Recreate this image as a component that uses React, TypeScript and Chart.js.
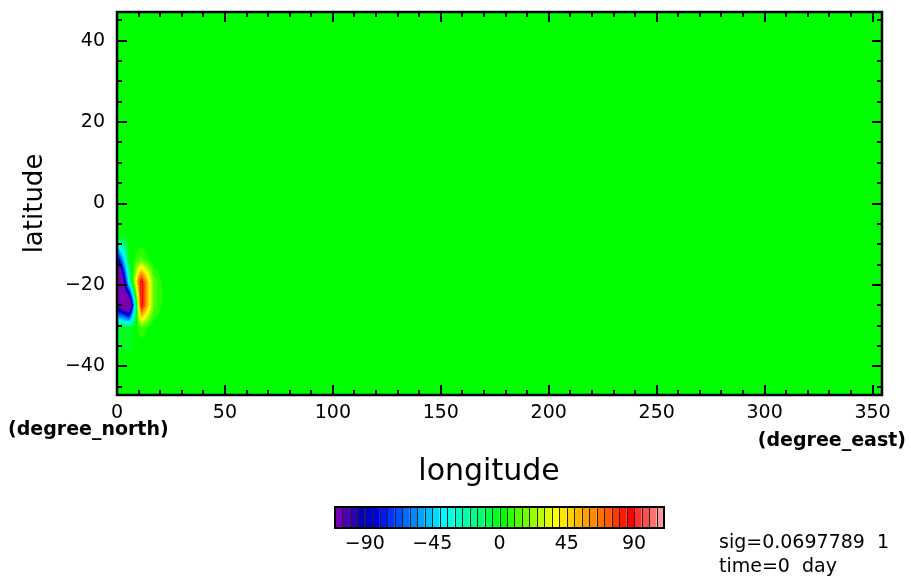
import React, { useEffect, useRef } from "react";
import { Chart, registerables } from "chart.js";

Chart.register(...registerables);

// Plot domain (T21-style grid: 64 longitudes, Gaussian latitudes)
const LON_MIN = 0;
const LON_MAX = 354.375;
const LAT_MIN = -47.07;
const LAT_MAX = 47.07;

const LON_TICKS = [0, 50, 100, 150, 200, 250, 300, 350];
const LAT_TICKS = [-40, -20, 0, 20, 40];
const LON_MINOR_STEP = 10;
const LAT_MINOR_STEP = 5;

// Grid patch holding the non-zero part of the field; the rest of the domain is 0.
const FIELD_LONS = [0, 5.625, 11.25, 16.875, 22.5];
const FIELD_LATS = [-2.769, -8.312, -13.849, -19.386, -24.923, -30.46, -35.997];
const FIELD_ROWS = [
  [0, 0, 0, 0, 0],
  [0, 0, 0, 0, 0],
  [-100, 0, 12, 0, 0],
  [-200, -30, 93, 15, 0],
  [-106, -150, 93, 15, 0],
  [0, -5, 10, 0, 0],
  [0, 0, 0, 0, 0],
];

// Shading levels: -110 .. 110 every 5
const LEVEL_MIN = -110;
const LEVEL_STEP = 5;
const LEVEL_COLORS = [
  "#7800b4", "#5000b4", "#2c00b8", "#0800b0",
  "#0000c8", "#0000e0", "#0018ff", "#0034ff",
  "#0050ff", "#006cff", "#0088ff", "#00a4ff",
  "#00c0ff", "#00dcff", "#00f8ff", "#00ffe0",
  "#00ffc4", "#00ffa8", "#00ff8c", "#00ff70",
  "#00ff48", "#00ff20", "#00ff00", "#2cff00",
  "#50ff00", "#74ff00", "#98ff00", "#bcff00",
  "#e0ff00", "#ffff00", "#ffe800", "#ffd000",
  "#ffb800", "#ffa000", "#ff8800", "#ff7000",
  "#ff5800", "#ff3800", "#ff1800", "#ff0000",
  "#ff3030", "#ff5050", "#ff7070", "#ff9898",
];
const LEVEL_MAX = LEVEL_MIN + LEVEL_STEP * LEVEL_COLORS.length;
const COLORBAR_TICKS = [-90, -45, 0, 45, 90];

const INFO_LINES = ["sig=0.0697789  1", "time=0  day"];

const FONT = '"DejaVu Sans", sans-serif';

const fmt = (v: number) => (v < 0 ? "\u2212" + Math.abs(v) : String(v));

const hexToRgb = (h: string) => [
  parseInt(h.slice(1, 3), 16),
  parseInt(h.slice(3, 5), 16),
  parseInt(h.slice(5, 7), 16),
];
const LEVEL_RGB = LEVEL_COLORS.map(hexToRgb);

function levelIndex(v: number) {
  let k = Math.floor((v - LEVEL_MIN) / LEVEL_STEP);
  if (k < 0) k = 0;
  if (k > LEVEL_COLORS.length - 1) k = LEVEL_COLORS.length - 1;
  return k;
}

function bracket(arr: number[], v: number) {
  for (let i = 0; i < arr.length - 1; i++) {
    const a = arr[i];
    const b = arr[i + 1];
    if (v >= Math.min(a, b) && v <= Math.max(a, b)) {
      return { i, t: (v - a) / (b - a) };
    }
  }
  return null;
}

function sampleField(lon: number, lat: number) {
  const bx = bracket(FIELD_LONS, lon);
  const by = bracket(FIELD_LATS, lat);
  if (!bx || !by) return 0;
  const r0 = FIELD_ROWS[by.i];
  const r1 = FIELD_ROWS[by.i + 1];
  const top = r0[bx.i] + (r0[bx.i + 1] - r0[bx.i]) * bx.t;
  const bot = r1[bx.i] + (r1[bx.i + 1] - r1[bx.i]) * bx.t;
  return top + (bot - top) * by.t;
}

const shadingPlugin = {
  id: "shading",
  beforeDatasetsDraw(chart: any) {
    const { ctx, chartArea: a, scales } = chart;
    const xs = scales.x;
    const ys = scales.y;
    const w = Math.round(a.right - a.left);
    const h = Math.round(a.bottom - a.top);
    const off = document.createElement("canvas");
    off.width = w;
    off.height = h;
    const octx = off.getContext("2d")!;
    const img = octx.createImageData(w, h);
    const lons: number[] = [];
    for (let i = 0; i < w; i++) lons.push(xs.getValueForPixel(a.left + i + 0.5));
    for (let j = 0; j < h; j++) {
      const lat = ys.getValueForPixel(a.top + j + 0.5);
      for (let i = 0; i < w; i++) {
        const c = LEVEL_RGB[levelIndex(sampleField(lons[i], lat))];
        const p = (j * w + i) * 4;
        img.data[p] = c[0];
        img.data[p + 1] = c[1];
        img.data[p + 2] = c[2];
        img.data[p + 3] = 255;
      }
    }
    octx.putImageData(img, 0, 0);
    ctx.drawImage(off, a.left, a.top);
  },
};

const framePlugin = {
  id: "frame",
  afterDatasetsDraw(chart: any) {
    const { ctx, chartArea: a, scales } = chart;
    const xs = scales.x;
    const ys = scales.y;
    ctx.save();
    ctx.strokeStyle = "#000";
    ctx.lineWidth = 2;
    const major = 10;
    const minor = 5;
    ctx.beginPath();
    for (let v = LON_MIN; v <= LON_MAX; v += LON_MINOR_STEP) {
      const px = Math.round(xs.getPixelForValue(v));
      const len = LON_TICKS.includes(v) ? major : minor;
      ctx.moveTo(px, a.bottom);
      ctx.lineTo(px, a.bottom - len);
      ctx.moveTo(px, a.top);
      ctx.lineTo(px, a.top + len);
    }
    for (let v = -45; v <= 45; v += LAT_MINOR_STEP) {
      const py = Math.round(ys.getPixelForValue(v));
      const len = LAT_TICKS.includes(v) ? major : minor;
      ctx.moveTo(a.left, py);
      ctx.lineTo(a.left + len, py);
      ctx.moveTo(a.right, py);
      ctx.lineTo(a.right - len, py);
    }
    ctx.stroke();
    ctx.lineWidth = 2.5;
    ctx.strokeRect(a.left, a.top, a.right - a.left, a.bottom - a.top);
    ctx.restore();
  },
  afterDraw(chart: any) {
    const { ctx, chartArea: a, scales } = chart;
    const xs = scales.x;
    const ys = scales.y;
    ctx.save();
    ctx.fillStyle = "#000";
    // tick labels
    ctx.font = `19px ${FONT}`;
    ctx.textBaseline = "middle";
    ctx.textAlign = "center";
    LON_TICKS.forEach((v) => ctx.fillText(fmt(v), xs.getPixelForValue(v), a.bottom + 18.5));
    ctx.textAlign = "right";
    LAT_TICKS.forEach((v) => ctx.fillText(fmt(v), a.left - 12, ys.getPixelForValue(v)));
    // axis titles
    ctx.textAlign = "center";
    ctx.font = `26px ${FONT}`;
    ctx.save();
    ctx.translate(35, (a.top + a.bottom) / 2);
    ctx.rotate(-Math.PI / 2);
    ctx.fillText("latitude", 0, 0);
    ctx.restore();
    ctx.font = `30px ${FONT}`;
    ctx.fillText("longitude", 489, 472);
    // unit labels
    ctx.font = `bold 19px ${FONT}`;
    ctx.textAlign = "left";
    ctx.fillText("(degree_north)", 8, 430);
    ctx.textAlign = "right";
    ctx.fillText("(degree_east)", 906, 441);
    // run info
    ctx.font = `19px ${FONT}`;
    ctx.textAlign = "left";
    ctx.textBaseline = "alphabetic";
    ctx.fillText(INFO_LINES[0], 719, 548);
    ctx.fillText(INFO_LINES[1], 719, 572);
    ctx.restore();
  },
};

const colorbarPlugin = {
  id: "colorbar",
  beforeDatasetsDraw(chart: any) {
    const { ctx, chartArea: a, scales } = chart;
    const xs = scales.x;
    ctx.save();
    LEVEL_COLORS.forEach((c, k) => {
      const x0 = xs.getPixelForValue(LEVEL_MIN + k * LEVEL_STEP);
      const x1 = xs.getPixelForValue(LEVEL_MIN + (k + 1) * LEVEL_STEP);
      ctx.fillStyle = c;
      ctx.fillRect(x0, a.top, x1 - x0, a.bottom - a.top);
    });
    ctx.strokeStyle = "#222";
    ctx.lineWidth = 1;
    ctx.beginPath();
    for (let k = 1; k < LEVEL_COLORS.length; k++) {
      const px = Math.round(xs.getPixelForValue(LEVEL_MIN + k * LEVEL_STEP)) + 0.5;
      ctx.moveTo(px, a.top);
      ctx.lineTo(px, a.bottom);
    }
    ctx.stroke();
    ctx.strokeStyle = "#000";
    ctx.lineWidth = 2;
    ctx.strokeRect(a.left, a.top, a.right - a.left, a.bottom - a.top);
    ctx.fillStyle = "#000";
    ctx.font = `19px ${FONT}`;
    ctx.textAlign = "center";
    ctx.textBaseline = "middle";
    COLORBAR_TICKS.forEach((v) => ctx.fillText(fmt(v), xs.getPixelForValue(v), a.bottom + 16.5));
    ctx.restore();
  },
};

const hiddenTicks = { display: false };
const noGrid = { display: false, drawTicks: false };

export default function App() {
  const mainRef = useRef<HTMLCanvasElement>(null);
  const barRef = useRef<HTMLCanvasElement>(null);

  useEffect(() => {
    const main = new Chart(mainRef.current!, {
      type: "scatter",
      data: { datasets: [] },
      options: {
        animation: false,
        responsive: false,
        layout: { padding: { left: 0, top: 12, right: 29, bottom: 0 } },
        plugins: { legend: { display: false }, tooltip: { enabled: false } },
        scales: {
          x: {
            type: "linear",
            min: LON_MIN,
            max: LON_MAX,
            grid: noGrid,
            border: { display: false },
            ticks: hiddenTicks,
            afterFit: (s: any) => {
              s.height = 185;
              s.paddingLeft = 0;
              s.paddingRight = 0;
            },
          },
          y: {
            type: "linear",
            min: LAT_MIN,
            max: LAT_MAX,
            grid: noGrid,
            border: { display: false },
            ticks: hiddenTicks,
            afterFit: (s: any) => {
              s.width = 117;
              s.paddingTop = 0;
              s.paddingBottom = 0;
            },
          },
        },
      },
      plugins: [shadingPlugin, framePlugin],
    });

    const bar = new Chart(barRef.current!, {
      type: "scatter",
      data: { datasets: [] },
      options: {
        animation: false,
        responsive: false,
        layout: { padding: { left: 35, top: 12, right: 36, bottom: 0 } },
        plugins: { legend: { display: false }, tooltip: { enabled: false } },
        scales: {
          x: {
            type: "linear",
            min: LEVEL_MIN,
            max: LEVEL_MAX,
            grid: noGrid,
            border: { display: false },
            ticks: hiddenTicks,
            afterFit: (s: any) => {
              s.height = 37;
              s.paddingLeft = 0;
              s.paddingRight = 0;
            },
          },
          y: { display: false, min: 0, max: 1 },
        },
      },
      plugins: [colorbarPlugin],
    });

    return () => {
      main.destroy();
      bar.destroy();
    };
  }, []);

  return (
    <div
      style={{
        position: "fixed",
        left: 0,
        top: 0,
        width: 911,
        height: 580,
        background: "#fff",
      }}
    >
      <canvas
        ref={mainRef}
        width={911}
        height={580}
        style={{ position: "absolute", left: 0, top: 0 }}
      />
      <canvas
        ref={barRef}
        width={400}
        height={70}
        style={{ position: "absolute", left: 300, top: 495 }}
      />
    </div>
  );
}
